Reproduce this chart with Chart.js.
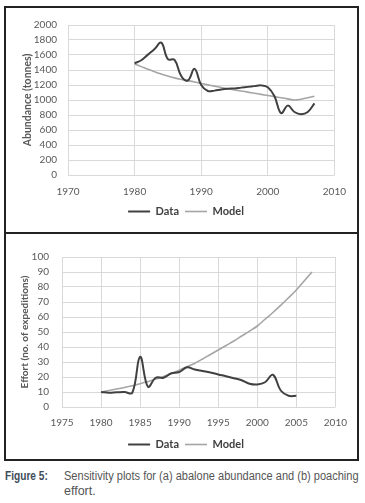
<!DOCTYPE html>
<html>
<head>
<meta charset="utf-8">
<script src="https://cdn.jsdelivr.net/npm/chart.js@4/dist/chart.umd.min.js"></script>
<style>
  html, body { margin:0; padding:0; background:#fff; }
  body { width:365px; height:503px; position:relative; overflow:hidden; }
  .box { position:absolute; border:2px solid #222; box-sizing:border-box; }
  .cv { position:absolute; }
  .cap { position:absolute; font-family:"Liberation Sans Narrow","Liberation Sans",sans-serif; font-size:12.5px; line-height:15px; white-space:nowrap; transform-origin:0 0; }
  #figlbl { left:5px; top:469px; font-weight:bold; color:#3e4c5a; }
  #l1 { left:64px; top:469px; color:#555; }
  #l2 { left:64px; top:484px; color:#555; }
</style>
</head>
<body>
<div class="box" style="left:4px;top:6px;width:355px;height:228px;"></div>
<div class="box" style="left:4px;top:232px;width:355px;height:229px;"></div>
<div class="cv" style="left:6px;top:8px;width:351px;height:223px;"><canvas id="c1" width="351" height="223"></canvas></div>
<div class="cv" style="left:6px;top:235px;width:351px;height:225px;"><canvas id="c2" width="351" height="225"></canvas></div>
<div class="cap" id="figlbl">Figure 5:</div>
<div class="cap" id="l1">Sensitivity plots for (a) abalone abundance and (b) poaching</div>
<div class="cap" id="l2">effort.</div>
<script>
// ---- Data (a) abalone abundance ----
const yearsA = [1980,1981,1982,1983,1984,1985,1986,1987,1988,1989,1990,1991,1992,1993,1994,1995,1996,1997,1998,1999,2000,2001,2002,2003,2004,2005,2006,2007];
const abundanceData = [1490,1530,1605,1680,1765,1545,1535,1320,1260,1415,1200,1120,1125,1140,1150,1155,1165,1175,1185,1195,1170,1050,825,925,840,810,840,955];
const abundanceModel = [1480,1445,1410,1378,1348,1320,1295,1275,1258,1240,1220,1202,1185,1167,1150,1135,1120,1105,1090,1075,1060,1045,1030,1015,1000,1010,1030,1050];
const xTicksA = [1970,1980,1990,2000,2010];
const yTicksA = [0,200,400,600,800,1000,1200,1400,1600,1800,2000];

// ---- Data (b) poaching effort ----
const yearsB = [1980,1981,1982,1983,1984,1985,1986,1987,1988,1989,1990,1991,1992,1993,1994,1995,1996,1997,1998,1999,2000,2001,2002,2003,2004,2005];
const effortData = [10,9.5,9.8,10,9.5,33.5,13.5,19.5,19.5,22.5,23.3,26.5,25,24,23,21.7,20.5,19.2,17.8,15.5,15,16.5,21.5,11,7.5,7.5];
const yearsBModel = [1980,1981,1982,1983,1984,1985,1986,1987,1988,1989,1990,1991,1992,1993,1994,1995,1996,1997,1998,1999,2000,2001,2002,2003,2004,2005,2006,2007];
const effortModel = [10,11,12,13,14.2,15.5,17,18.6,20.4,22.4,24.5,26.8,29.2,32,35,38,41,44,47.3,50.6,54,58.5,63,67.8,72.8,78,84,90];
const xTicksB = [1975,1980,1985,1990,1995,2000,2005,2010];
const yTicksB = [0,10,20,30,40,50,60,70,80,90,100];

const seriesNames = ['Data','Model'];
const DARK = '#404040', LIGHT = '#a5a5a5', GRID = '#d9d9d9', TXT = '#595959';
const tickFont = {family:'Lato, "Open Sans", sans-serif', size:10};

function pts(xs, ys){ return xs.map((x,i)=>({x:x, y:ys[i]})); }

function makeChart(id, cfg){
  const shiftLegend = {
    id:'shiftLegend',
    afterLayout(chart){
      const lg = chart.legend;
      if (lg) { lg.left += cfg.legendDx; lg.right += cfg.legendDx; }
    }
  };
  return new Chart(document.getElementById(id), {
    type:'line',
    data:{ datasets:[
      {label:seriesNames[0], data:cfg.d1, borderColor:DARK, backgroundColor:DARK, borderWidth:2, pointRadius:0, tension:0.4, fill:false, order:1},
      {label:seriesNames[1], data:cfg.d2, borderColor:LIGHT, backgroundColor:LIGHT, borderWidth:1.6, pointRadius:0, tension:0.4, fill:false, order:2}
    ]},
    plugins:[shiftLegend],
    options:{
      responsive:false, animation:false, devicePixelRatio:1,
      layout:{padding:{top:cfg.padTop, right:15, bottom:cfg.padBottom, left:0}},
      plugins:{
        legend:{display:true, position:'bottom',
          labels:{usePointStyle:true, pointStyle:'line', pointStyleWidth:22, boxHeight:10, padding:6,
            color:'#404040', font:{family:'Lato, "Open Sans", sans-serif', size:11, weight:'bold'}}},
        tooltip:{enabled:false}
      },
      scales:{
        x:{type:'linear', min:cfg.xTicks[0], max:cfg.xTicks[cfg.xTicks.length-1],
          afterBuildTicks:(s)=>{ s.ticks = cfg.xTicks.map(v=>({value:v})); },
          ticks:{color:TXT, font:tickFont, padding:cfg.xPad, maxRotation:0, autoSkip:false, callback:(v)=>String(v)},
          grid:{color:GRID, lineWidth:1, drawTicks:false},
          border:{display:false},
          afterFit:(s)=>{ s.height = cfg.xH; }
        },
        y:{type:'linear', min:cfg.yTicks[0], max:cfg.yTicks[cfg.yTicks.length-1],
          afterBuildTicks:(s)=>{ s.ticks = cfg.yTicks.map(v=>({value:v})); },
          ticks:{color:TXT, font:tickFont, padding:cfg.yPad, autoSkip:false, callback:(v)=>String(v)},
          grid:{color:GRID, lineWidth:1, drawTicks:false},
          border:{display:false},
          title:{display:true, text:cfg.yTitle, color:TXT, font:{family:'Lato, "Open Sans", sans-serif', size:cfg.titleSize, weight:'bold'}, padding:{top:cfg.titlePad, bottom:0}},
          afterFit:(s)=>{ s.width = cfg.yW; }
        }
      }
    }
  });
}

makeChart('c1', {
  d1:pts(yearsA, abundanceData), d2:pts(yearsA, abundanceModel),
  xTicks:xTicksA, yTicks:yTicksA, yTitle:'Abundance (tonnes)',
  padTop:17, padBottom:4, xH:25, xPad:11, yPad:11, yW:62, titlePad:15, titleSize:10.5, legendDx:12
});
makeChart('c2', {
  d1:pts(yearsB, effortData), d2:pts(yearsBModel, effortModel),
  xTicks:xTicksB, yTicks:yTicksB, yTitle:'Effort (no. of expeditions)',
  padTop:22, padBottom:0, xH:26, xPad:10, yPad:13, yW:56, titlePad:13, titleSize:10, legendDx:12
});

// fit caption pieces to the measured widths of the reference layout
function fitW(id, target){
  const el = document.getElementById(id);
  const w = el.scrollWidth;
  if (w > 0) el.style.transform = 'scaleX(' + (target / w) + ')';
}
fitW('l1', 295);
fitW('figlbl', 43);
</script>
</body>
</html>
